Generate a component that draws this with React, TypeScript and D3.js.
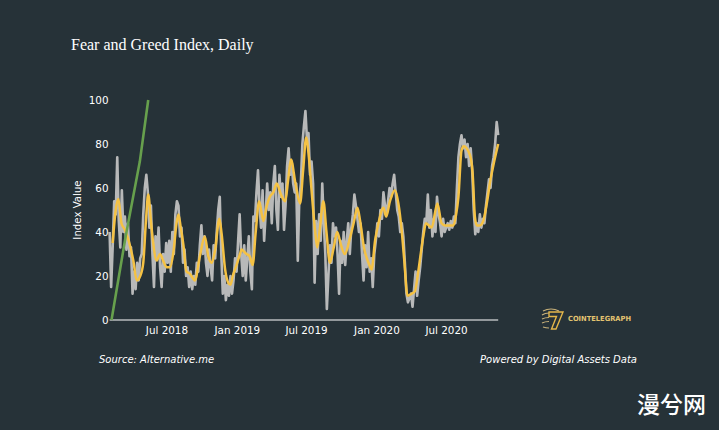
import React from "react";
import * as d3 from "d3";

// Daily Fear & Greed samples (every 4 days) starting 2018-02-01
const seriesStart = "2018-02-01";
const stepDays = 4;
const dailyValues = [
  40, 15, 33, 54, 48, 74, 45, 33, 59, 40, 47, 32, 44, 29, 33, 12,
  22, 14, 26, 18, 28, 30, 48, 60, 66, 58,
  42, 52, 30, 15, 38, 28, 42, 24, 15, 30, 22, 35,
  26, 36, 22, 40, 30, 48, 54, 52,
  38, 42, 26, 32, 20, 24, 15, 22, 14, 20, 16, 26, 22, 34, 43,
  30, 38, 26, 20, 32, 24, 18, 34, 28, 40, 50, 56,
  30, 12, 20, 9, 16, 11, 20, 12, 18, 28, 22, 36, 48,
  30, 20, 34, 18, 28, 38, 22, 14, 47, 45, 58,
  68, 52, 42, 59, 36, 48, 62,
  50, 58, 44, 62, 70, 50, 41, 66,
  56, 62, 41, 52,
  70, 78, 66, 72, 62,
  58, 62, 27, 55, 62,
  80, 88, 95, 82, 85, 66, 72, 62, 17,
  45, 30, 48, 36, 62, 44, 30, 5,
  20, 34, 26, 44, 38, 42, 30, 12, 36, 26, 40,
  25, 36, 44, 30, 42, 48, 57,
  52, 46, 40, 44, 30, 18, 34, 24, 40, 22, 28, 15,
  30, 36, 44, 38, 50, 46, 58, 52, 48,
  54, 60, 56, 62, 66, 58, 50,
  47, 40, 44, 38, 26, 12, 8,
  10, 12, 6, 14, 22, 11,
  18, 24, 32, 40, 46, 44,
  57, 42, 50, 38, 46, 40, 56,
  48, 44, 38, 46, 40, 42,
  44, 41, 45, 42, 47, 44,
  60, 74, 80, 84, 78,
  82, 74, 80, 70, 78, 68, 50,
  39, 44, 40, 48, 42, 46, 44,
  52, 58, 64, 60, 70, 74, 80, 90, 84,
];

// Moving average (yellow): day offsets from series start and values
const maDays = [
  8, 16, 23, 31, 40, 50, 62, 71, 80, 88, 95, 101, 108, 114, 123, 132, 140, 149,
  158, 167, 175, 180, 186, 193, 201, 210, 223, 236, 249, 258, 267, 276, 287, 293,
  302, 310, 316, 322, 330, 341, 345, 352, 358, 366, 374, 382, 391, 402, 411, 419,
  428, 437, 448, 459, 467, 474, 486, 498, 506, 514, 521, 528, 537, 543, 550, 559,
  567, 576, 586, 595, 605, 615, 628, 638, 648, 655, 665, 677, 685, 694, 703, 716,
  723, 733, 746, 755, 764, 770, 779, 790, 798, 807, 815, 822, 827, 842, 857, 868,
  877, 890, 899, 906, 912, 920, 926, 942, 949, 955, 960, 968, 977, 981, 989, 994,
  1003, 1016,
];
const maValues = [
  35, 50, 55, 44, 41, 36, 27, 18, 20, 26, 45, 57, 45, 35, 27, 30, 27, 24,
  24, 31, 44, 48, 42, 34, 22, 21, 18, 29, 38, 29, 26, 32, 46, 39,
  23, 17, 16, 20, 24, 30, 32, 31, 30, 29, 25, 40, 54, 45, 52, 56,
  58, 62, 57, 54, 64, 73, 62, 53, 68, 83, 74, 59, 41, 33, 42, 54,
  40, 26, 33, 40, 34, 30, 37, 44, 51, 45, 33, 26, 23, 36, 44, 51,
  47, 54, 59, 53, 40, 28, 11, 12, 13, 22, 32, 40, 44, 42, 53, 44,
  43, 43, 43, 48, 56, 77, 79, 75, 67, 47, 43, 43, 45, 48, 56, 62,
  70, 80,
];

// Green line
const greenDays = [5, 42, 79, 101];
const greenValues = [0, 38, 72, 100];

const yTicks = [0, 20, 40, 60, 80, 100];
const xTickDates = ["2018-07-01", "2019-01-01", "2019-07-01", "2020-01-01", "2020-07-01"];
const xTickLabels = ["Jul 2018", "Jan 2019", "Jul 2019", "Jan 2020", "Jul 2020"];

const DAY = 86400000;
const W = 719;
const H = 430;
const BG = "#263238";
const FONT = "'DejaVu Sans', Verdana, sans-serif";

export default function App() {
  const start = new Date(seriesStart + "T00:00:00Z").getTime();
  const lastDay = (dailyValues.length - 1) * stepDays;
  const x = d3
    .scaleUtc()
    .domain([new Date(start), new Date(start + lastDay * DAY)])
    .range([109.6, 498.2]);
  const y = d3.scaleLinear().domain([0, 100]).range([320, 100]);

  const grayPts: [Date, number][] = dailyValues.map((v, i) => [new Date(start + i * stepDays * DAY), v]);
  const maPts: [Date, number][] = maDays.map((d, i) => [new Date(start + d * DAY), maValues[i]]);
  const greenPts: [Date, number][] = greenDays.map((d, i) => [new Date(start + d * DAY), greenValues[i]]);

  const line = d3
    .line<[Date, number]>()
    .x((d) => x(d[0]))
    .y((d) => y(d[1]));
  const smooth = d3
    .line<[Date, number]>()
    .x((d) => x(d[0]))
    .y((d) => y(d[1]))
    .curve(d3.curveMonotoneX);

  const [x0, x1] = x.range();

  return (
    <svg
      width={W}
      height={H}
      style={{ position: "fixed", left: 0, top: 0, display: "block", background: BG }}
    >
      <rect x={0} y={0} width={W} height={H} fill={BG} />
      <text x={71} y={50} fill="#ffffff" fontFamily="'Liberation Serif', 'Times New Roman', serif" fontSize={16}>
        Fear and Greed Index, Daily
      </text>

      {/* y tick labels */}
      {yTicks.map((t) => (
        <text
          key={t}
          x={108.5}
          y={y(t)}
          dy="0.36em"
          textAnchor="end"
          fill="#ffffff"
          fontFamily={FONT}
          fontSize={10.4}
        >
          {t}
        </text>
      ))}
      <text
        transform="translate(80.8,210) rotate(-90)"
        textAnchor="middle"
        fill="#ffffff"
        fontFamily={FONT}
        fontSize={10.2}
      >
        Index Value
      </text>

      {/* x axis */}
      <line x1={x0} x2={x1} y1={320} y2={320} stroke="#ffffff" strokeWidth={1.2} />
      {xTickDates.map((d, i) => (
        <text
          key={d}
          x={x(new Date(d + "T00:00:00Z"))}
          y={333.5}
          textAnchor="middle"
          fill="#ffffff"
          fontFamily={FONT}
          fontSize={10.4}
        >
          {xTickLabels[i]}
        </text>
      ))}

      {/* series */}
      <path d={line(grayPts) || ""} fill="none" stroke="#c4c4c4" strokeOpacity={0.92} strokeWidth={2.6} strokeLinejoin="round" />
      <path d={smooth(maPts) || ""} fill="none" stroke="#f5c244" strokeWidth={2.5} strokeLinejoin="round" />
      <path d={line(greenPts) || ""} fill="none" stroke="#67a04d" strokeWidth={2.6} strokeLinejoin="round" />

      {/* footer */}
      <text x={99} y={362.5} fill="#ffffff" fontFamily={FONT} fontStyle="italic" fontSize={10}>
        Source: Alternative.me
      </text>
      <text x={637} y={362.5} textAnchor="end" fill="#ffffff" fontFamily={FONT} fontStyle="italic" fontSize={10}>
        Powered by Digital Assets Data
      </text>

      {/* logo */}
      <g>
        <path d="M543,311 q8,-4 16,0" fill="none" stroke="#c9b27a" strokeWidth={1.2} />
        <path d="M542,315 q3,-2 7,-2" fill="none" stroke="#c9b27a" strokeWidth={1.2} />
        <path d="M542,319 q3,-1.5 7,-1.5" fill="none" stroke="#c9b27a" strokeWidth={1.2} />
        <path d="M542,323 q3,-1.5 7,-1.5" fill="none" stroke="#c9b27a" strokeWidth={1.2} />
        <path d="M543,327 q3,1 6,1" fill="none" stroke="#c9b27a" strokeWidth={1.2} />
        <path d="M549,312 L563,312 L556,329 L551.5,329 L556.5,316.5 L549,316.5 Z" fill="none" stroke="#e3b64a" strokeWidth={1.4} />
        <text x={568} y={320.6} fill="#e3c471" fontFamily={FONT} fontWeight="bold" fontSize={7} textLength={63} lengthAdjust="spacingAndGlyphs">
          COINTELEGRAPH
        </text>
      </g>

      {/* watermark */}
      <text x={637} y={413} fill="#ffffff" fontFamily="'Noto Sans CJK SC', sans-serif" fontWeight={500} fontSize={23}>
        漫兮网
      </text>
    </svg>
  );
}
